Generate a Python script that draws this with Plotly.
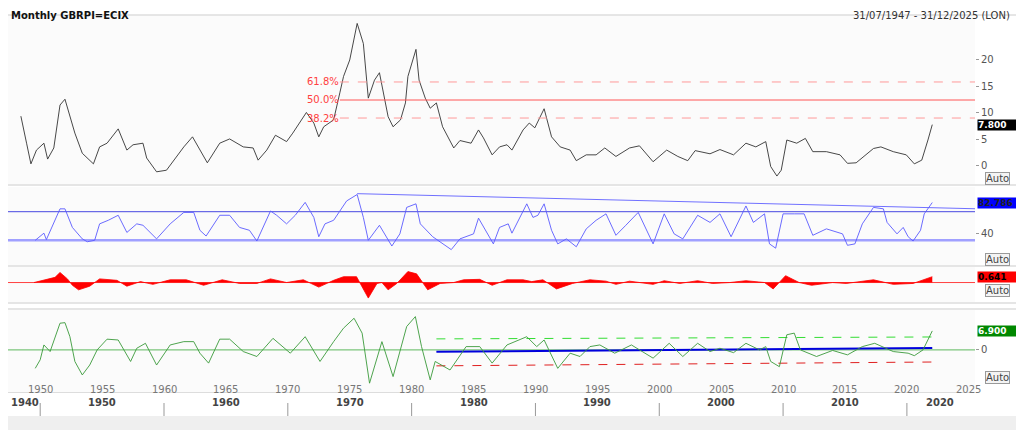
import plotly.graph_objects as go

# ---- data (decimal years) ----
rpi_x = [1948.44, 1948.6, 1948.9, 1949.25, 1949.5, 1949.7, 1950.3, 1950.6, 1951.1, 1951.6,
         1952.0, 1952.4, 1952.8, 1953.4, 1954.3, 1954.8, 1955.4, 1956.3, 1957.0, 1957.5,
         1958.3, 1958.6, 1959.4, 1960.2, 1960.8, 1961.6, 1962.3, 1962.9, 1963.5, 1964.5,
         1965.3, 1966.4, 1967.2, 1967.6, 1968.3, 1969.0, 1969.9, 1970.4, 1971.5, 1972.1,
         1972.5, 1972.9, 1973.7, 1974.2, 1974.5, 1975.0, 1975.6, 1976.1, 1976.5, 1977.0,
         1977.4, 1978.1, 1978.5, 1979.1, 1979.5, 1979.7, 1980.35, 1980.6, 1981.1, 1981.5,
         1982.0, 1982.5, 1983.4, 1983.9, 1984.8, 1985.4, 1985.8, 1986.5, 1987.1, 1987.7,
         1988.1, 1989.0, 1989.5, 1989.95, 1990.7, 1991.3, 1992.0, 1992.8, 1993.3, 1994.1,
         1994.9, 1995.6, 1996.5, 1997.6, 1998.4, 1999.5, 2000.6, 2001.5, 2002.3, 2002.9,
         2003.3, 2004.1, 2004.9, 2006.0, 2007.0, 2007.8, 2008.6, 2009.0, 2009.5, 2009.85,
         2010.3, 2011.1, 2011.8, 2012.4, 2013.5, 2014.6, 2015.2, 2015.9, 2017.3, 2017.9,
         2018.9, 2019.95, 2020.6, 2021.2, 2021.7, 2022.05]
rpi_y = [9.4, 7.4, 4.3, 0.4, 1.8, 3.0, 4.3, 1.3, 3.4, 11.5,
         12.6, 9.3, 6.2, 2.4, 0.4, 3.6, 4.3, 7.0, 3.0, 4.0,
         4.3, 1.5, -1.1, -0.8, 1.1, 3.6, 5.5, 3.0, 0.6, 4.3,
         5.1, 3.6, 3.4, 1.1, 3.0, 5.8, 4.6, 6.2, 10.1, 8.1,
         5.5, 7.4, 8.7, 13.8, 16.9, 20.0, 26.9, 23.1, 12.8, 16.2,
         17.6, 9.3, 7.4, 8.7, 11.9, 16.9, 22.0, 16.2, 12.8, 10.9,
         11.9, 7.4, 3.4, 4.8, 4.3, 6.8, 5.3, 2.1, 3.6, 4.0,
         3.0, 6.8, 8.1, 7.2, 10.8, 5.5, 3.6, 3.0, 1.0, 2.1,
         2.1, 3.4, 1.8, 3.4, 3.8, 0.8, 3.0, 1.8, 1.0, 2.9,
         2.7, 2.3, 3.1, 2.1, 4.3, 3.6, 4.6, -0.1, -1.9, -0.8,
         4.9, 4.3, 5.2, 2.7, 2.7, 2.1, 0.5, 0.6, 3.3, 3.6,
         2.7, 2.1, 0.4, 1.1, 4.9, 7.8]

rsi_x = [1949.6, 1950.3, 1950.5, 1951.6, 1952.0, 1952.6, 1953.4, 1953.8, 1954.4, 1954.8,
         1955.5, 1956.3, 1957.0, 1957.8, 1958.3, 1959.4, 1960.5, 1961.6, 1962.4, 1962.9,
         1963.4, 1964.5, 1965.3, 1966.1, 1966.9, 1967.5, 1968.6, 1969.1, 1969.9, 1970.6,
         1971.4, 1972.1, 1972.5, 1973.0, 1973.7, 1974.75, 1975.6, 1976.1, 1976.5, 1977.4,
         1978.4, 1979.05, 1979.6, 1980.35, 1980.7, 1981.7, 1983.2, 1983.9, 1985.0, 1985.4,
         1986.6, 1987.1, 1987.8, 1988.1, 1989.3, 1989.8, 1990.2, 1990.7, 1991.3, 1991.8,
         1992.5, 1993.3, 1994.1, 1994.9, 1995.7, 1996.5, 1997.3, 1998.3, 1999.5, 2000.4,
         2001.2, 2001.9, 2003.1, 2004.1, 2004.9, 2005.8, 2007.0, 2007.6, 2008.5, 2008.9,
         2009.4, 2010.0, 2010.9, 2011.7, 2012.4, 2013.5, 2014.8, 2015.2, 2015.8, 2016.4,
         2017.3, 2018.1, 2018.4, 2019.2, 2019.7, 2020.1, 2020.5, 2021.1, 2021.4, 2022.05]
rsi_y = [30, 40, 31, 74, 74, 48, 32, 28, 30, 53,
         58, 65, 41, 53, 51, 32, 53, 69, 69, 44,
         36, 65, 65, 48, 44, 29, 71, 65, 53, 65,
         83, 62, 35, 53, 58, 85, 94, 62, 30, 51,
         22, 39, 76, 81, 53, 35, 17, 32, 39, 61,
         25, 48, 53, 40, 81, 62, 65, 81, 44, 25,
         32, 21, 46, 58, 67, 37, 51, 69, 25, 67,
         39, 32, 65, 55, 67, 35, 78, 55, 67, 25,
         19, 67, 67, 67, 37, 46, 39, 23, 25, 53,
         76, 74, 55, 39, 48, 35, 29, 44, 67, 82.786]

mom_x = [1949.5, 1951.2, 1951.6, 1952.2, 1952.6, 1953.1, 1954.0, 1954.8, 1956.2, 1957.0,
         1958.1, 1959.1, 1960.5, 1961.8, 1963.2, 1964.7, 1966.1, 1967.5, 1968.6, 1969.9,
         1971.25, 1972.5, 1973.7, 1974.5, 1975.55, 1975.8, 1976.5, 1977.2, 1977.6, 1978.1,
         1978.8, 1979.7, 1980.4, 1981.3, 1982.3, 1983.4, 1984.2, 1985.5, 1986.5, 1987.7,
         1989.0, 1989.7, 1990.6, 1991.7, 1993.0, 1994.4, 1995.7, 1996.5, 1997.6, 1999.5,
         2000.4, 2001.65, 2003.1, 2004.3, 2005.7, 2007.0, 2008.5, 2009.2, 2010.2, 2011.3,
         2012.3, 2014.0, 2015.1, 2017.3, 2018.9, 2020.5, 2021.4, 2022.05]
mom_y = [0, 0.57, 1.1, 0.4, -0.3, -0.8, -0.4, 0.4, 0.24, -0.4,
         0.1, -0.2, 0.3, 0.3, -0.3, 0.3, -0.1, -0.1, 0.4, 0,
         0.3, -0.5, 0.24, 0.64, 0.64, 0, -1.7, -0.1, 0, -0.8,
         -0.1, 1.2, 0.95, -0.8, -0.1, 0, 0.3, 0.35, -0.3, 0.3,
         0.3, 0.1, 0.3, -0.7, -0.1, 0.3, 0.15, -0.2, 0.15, -0.2,
         0.2, -0.1, 0.2, -0.1, 0, 0.2, 0, -0.7, 0.75, 0,
         -0.3, 0, -0.1, 0.3, -0.2, -0.1, 0.3, 0.641]

osc_x = [1949.6, 1950.0, 1950.3, 1950.8, 1951.6, 1952.0, 1952.4, 1952.8, 1953.4, 1954.0,
         1954.6, 1955.4, 1956.3, 1957.3, 1957.8, 1958.5, 1959.4, 1960.5, 1961.6, 1962.4,
         1962.9, 1963.6, 1964.5, 1965.3, 1966.4, 1967.5, 1968.8, 1970.2, 1971.4, 1972.6,
         1973.7, 1974.5, 1975.35, 1976.0, 1976.6, 1977.6, 1978.5, 1979.6, 1980.3, 1980.8,
         1981.5, 1981.9, 1983.1, 1984.4, 1985.5, 1986.5, 1987.7, 1989.3, 1990.1, 1990.7,
         1991.8, 1992.8, 1993.6, 1994.4, 1995.2, 1996.4, 1997.75, 1999.5, 2000.8, 2001.9,
         2003.1, 2004.1, 2004.9, 2006.0, 2007.0, 2008.1, 2008.6, 2009.0, 2009.7, 2010.3,
         2010.9, 2011.4, 2012.7, 2014.0, 2015.2, 2016.4, 2017.4, 2018.9, 2020.1, 2020.6,
         2021.3, 2022.05]
osc_y = [-6.7, -3.6, 1.8, -0.6, 9.7, 9.9, 4.8, -4.2, -9.1, -5.5,
         0, 3.9, 3.6, -4.2, 0.6, 2.4, -5.5, 1.8, 3.0, 3.0,
         -1.2, -4.8, 3.9, 3.9, -0.6, -2.4, 4.2, -1.2, 4.8, -4.2,
         3.0, 7.9, 11.5, 6.1, -12.1, 3.0, -9.7, 8.5, 12.1, 1.2,
         -10.9, -4.2, -7.3, 1.2, 1.2, -4.8, 1.8, 4.8, 1.2, 3.6,
         -6.7, -1.2, -2.4, 1.2, 1.8, -1.2, 1.8, -3.0, 2.4, -2.4,
         2.4, -0.6, 0.6, -1.0, 2.4, 0, 1.2, -4.2, -6.1, 5.5,
         6.1, 0, -2.4, -0.2, -1.8, 1.2, 2.4, -0.6, -1.2, -2.1,
         0, 6.9]

fib_levels = [15.85, 12.45, 9.05]
fib_labels = ["61.8%", "50.0%", "38.2%"]
rsi_trend_x = [1975.6, 2025.5]
rsi_trend_y = [95.2, 74.1]
band_x = [1982.0, 2022.05]
band_upper = [4.0, 4.7]
band_lower = [-5.8, -4.4]
band_mid = [-0.7, 0.7]

minor_years = list(range(1950, 2030, 5))
decade_labels = ["1950", "1960", "1970", "1980", "1990", "2000", "2010", "2020"]
decade_pos = [1955, 1965, 1975, 1985, 1995, 2005, 2015, 2022.7]
decade_sep = [1950, 1960, 1970, 1980, 1990, 2000, 2010, 2020]

XR = [1947.4, 2025.5]
# the page has an 8px body margin, so the figure is placed at (8, 8)
OFF = 8
W = 1016.0
H = 422.0


def px(x):
    return (x - OFF) / W


def py(y):
    return 1 - (y - OFF) / H


def dom(top_px, bot_px):
    return [py(bot_px), py(top_px)]


fig = go.Figure()

# panel 1: price line + fib
fig.add_trace(go.Scatter(x=rpi_x, y=rpi_y, mode="lines", line=dict(color="#333", width=0.9),
                         xaxis="x", yaxis="y"))
for lv, lb in zip(fib_levels, fib_labels):
    fig.add_trace(go.Scatter(x=[1974.2, XR[1]], y=[lv, lv], mode="lines",
                             line=dict(color="#ff5555" if lb == "50.0%" else "#ff9999",
                                       width=1, dash="solid" if lb == "50.0%" else "dash"),
                             xaxis="x", yaxis="y"))
    fig.add_annotation(x=1974.3, y=lv, xref="x", yref="y", text=lb, showarrow=False,
                       xanchor="right", font=dict(color="#ff4040", size=10))

# panel 2: RSI
fig.add_trace(go.Scatter(x=XR, y=[30, 30], mode="lines", line=dict(color="#a0a0ff", width=2.5),
                         xaxis="x", yaxis="y2"))
fig.add_trace(go.Scatter(x=XR, y=[70, 70], mode="lines", line=dict(color="#4848e0", width=1),
                         xaxis="x", yaxis="y2"))
fig.add_trace(go.Scatter(x=rsi_trend_x, y=rsi_trend_y, mode="lines",
                         line=dict(color="#7070ff", width=1), xaxis="x", yaxis="y2"))
fig.add_trace(go.Scatter(x=rsi_x, y=rsi_y, mode="lines", line=dict(color="#5a5aff", width=0.9),
                         xaxis="x", yaxis="y2"))

# panel 3: momentum area
fig.add_trace(go.Scatter(x=XR, y=[0, 0], mode="lines", line=dict(color="#ff4040", width=1),
                         xaxis="x", yaxis="y3"))
fig.add_trace(go.Scatter(x=mom_x, y=mom_y, mode="lines", fill="tozeroy", fillcolor="#ff0000",
                         line=dict(color="#ff0000", width=0.8), xaxis="x", yaxis="y3"))

# panel 4: oscillator
fig.add_trace(go.Scatter(x=XR, y=[0, 0], mode="lines", line=dict(color="#5cb85c", width=1),
                         xaxis="x", yaxis="y4"))
fig.add_trace(go.Scatter(x=band_x, y=band_upper, mode="lines",
                         line=dict(color="#33dd33", width=1, dash="dash"), xaxis="x", yaxis="y4"))
fig.add_trace(go.Scatter(x=band_x, y=band_lower, mode="lines",
                         line=dict(color="#e02020", width=1, dash="dash"), xaxis="x", yaxis="y4"))
fig.add_trace(go.Scatter(x=band_x, y=band_mid, mode="lines",
                         line=dict(color="#0000dd", width=2), xaxis="x", yaxis="y4"))
fig.add_trace(go.Scatter(x=osc_x, y=osc_y, mode="lines", line=dict(color="#3a9a3a", width=0.9),
                         xaxis="x", yaxis="y4"))

ax_common = dict(side="right", showgrid=False, zeroline=False, ticks="outside", ticklen=3,
                 tickcolor="#999", tickfont=dict(size=10, color="#555", family="DejaVu Sans"),
                 anchor="free", position=px(975), showline=False, automargin=False)

fig.update_layout(
    width=int(W), height=int(H), showlegend=False,
    margin=dict(l=0, r=0, t=0, b=0, autoexpand=False),
    paper_bgcolor="white", plot_bgcolor="#fbfbfb",
    font=dict(family="DejaVu Sans", size=10),
    xaxis=dict(domain=[px(8), px(975)], range=XR, anchor="y4", showticklabels=False,
               ticks="", showgrid=False, zeroline=False, showline=True, linecolor="#ddd",
               automargin=False),
    yaxis=dict(domain=dom(16, 184), range=[-3.4, 28.3], tickvals=[0, 5, 10, 15, 20], **ax_common),
    yaxis2=dict(domain=dom(187, 265), range=[-4.5, 104.5], tickvals=[40], **ax_common),
    yaxis3=dict(domain=dom(267, 302), range=[-2.13, 1.7], tickvals=[], **ax_common),
    yaxis4=dict(domain=dom(310, 392), range=[-15.3, 14.5], tickvals=[0], **ax_common),
)

# panel separators
for ypx in [185, 266, 303, 309]:
    fig.add_shape(type="line", xref="paper", yref="paper", x0=0, x1=1,
                  y0=py(ypx), y1=py(ypx), line=dict(color="#dddddd", width=1.5))
fig.add_shape(type="rect", xref="paper", yref="paper", x0=0, x1=1, y0=0, y1=py(416),
              fillcolor="#efefef", line_width=0, layer="below")
fig.add_shape(type="line", xref="paper", yref="paper", x0=0, x1=1, y0=py(15), y1=py(15),
              line=dict(color="#cccccc", width=1))

# year rows
for yr in minor_years:
    fig.add_annotation(x=yr, y=py(397), xref="x", yref="paper", text=str(yr),
                       showarrow=False, font=dict(size=10, color="#777"))
fig.add_annotation(x=px(9), y=py(410), xref="paper", yref="paper", text="<b>1940</b>",
                   xanchor="left", showarrow=False, font=dict(size=10, color="#444"))
for lb, xp in zip(decade_labels, decade_pos):
    fig.add_annotation(x=xp, y=py(410), xref="x", yref="paper", text=f"<b>{lb}</b>",
                       showarrow=False, font=dict(size=10, color="#444"))
for yr in decade_sep:
    fig.add_shape(type="line", xref="x", yref="paper", x0=yr, x1=yr,
                  y0=py(416), y1=py(403), line=dict(color="#999", width=1))

# title texts
fig.add_annotation(x=px(9), y=1, xref="paper", yref="paper", xanchor="left", yanchor="top",
                   text="<b>Monthly GBRPI=ECIX</b>", showarrow=False,
                   font=dict(size=10, color="#111"))
fig.add_annotation(x=px(1012), y=1, xref="paper", yref="paper", xanchor="right", yanchor="top",
                   text="31/07/1947 - 31/12/2025 (LON)", showarrow=False,
                   font=dict(size=10, color="#333"))

# value badges
badges = [("7.800", 7.8, "y", "black", "white"), ("82.786", 82.786, "y2", "#0000ff", "#222"),
          ("0.641", 0.641, "y3", "#ff0000", "black"), ("6.900", 6.9, "y4", "#008800", "white")]
for txt, val, yr, bg, fg in badges:
    fig.add_annotation(x=px(977), y=val, xref="paper", yref=yr, text=f"<b>{txt}</b>",
                       xanchor="left", showarrow=False, bgcolor=bg, width=38, align="left",
                       font=dict(size=9, color=fg), borderpad=0)

# Auto boxes
for ypx in [178, 260, 297, 384]:
    fig.add_annotation(x=px(985), y=py(ypx), xref="paper", yref="paper", text="Auto",
                       xanchor="left", showarrow=False, bgcolor="#f4f4f4",
                       bordercolor="#999", borderwidth=1, borderpad=0,
                       font=dict(size=10, color="#444"))

fig.write_html("out.html")
